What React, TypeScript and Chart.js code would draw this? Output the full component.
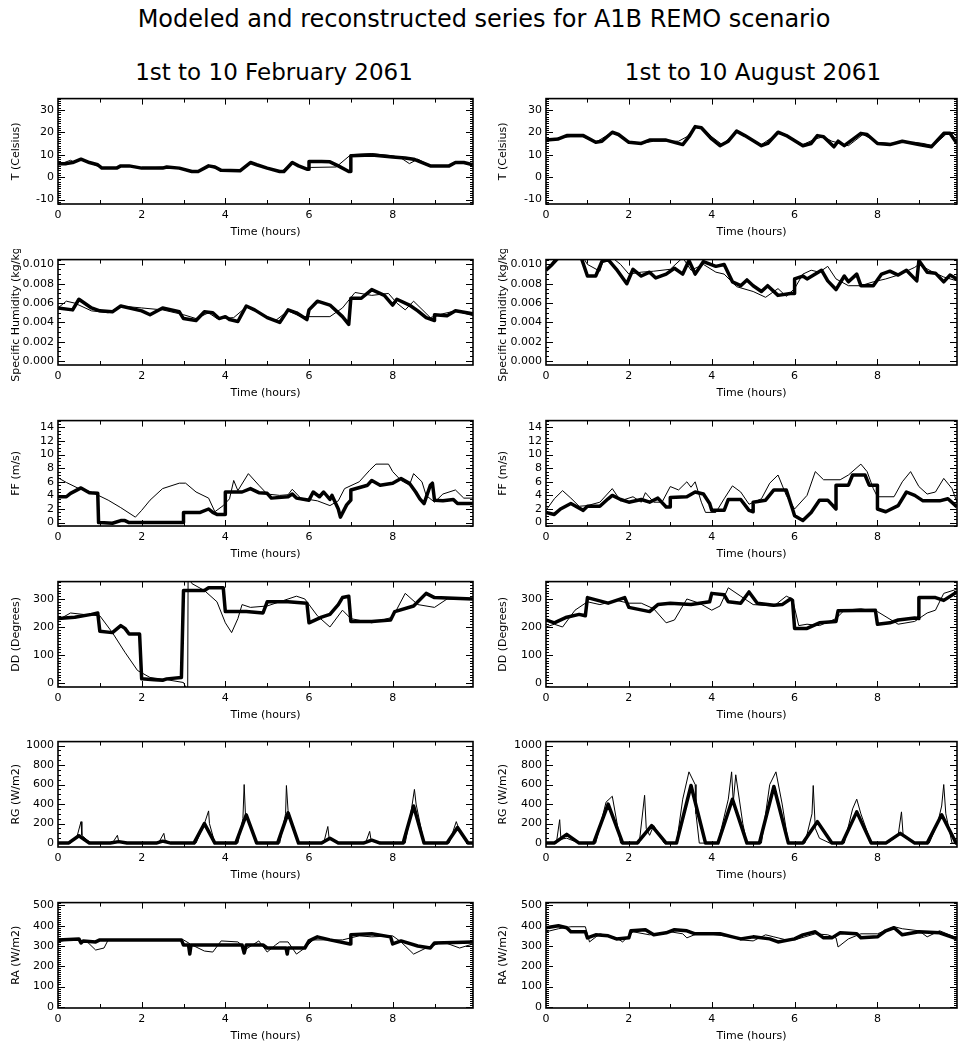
import React, { useEffect, useRef } from "react";
import { Chart, registerables } from "chart.js";
Chart.register(...registerables);

type Pt = [number, number];

const MAIN_TITLE = "Modeled and reconstructed series for A1B REMO scenario";
const COL_TITLES = ["1st to 10 February 2061", "1st to 10 August 2061"];
const X_TITLE = "Time (hours)";
const X_MAX = 9.92;
const X_TICKS = [0, 2, 4, 6, 8];

// ---------- Temperature ----------
const FEB_T_MODEL: Pt[] = [[0,6],[0.15,6.5],[0.3,7.5],[0.4,6.5],[0.55,8],[0.75,6.5],[1.05,4],[1.4,4],[1.5,5],[1.7,5],[2.0,4],[2.6,4.5],[2.9,4],[3.2,2.5],[3.35,2.5],[3.6,5],[3.9,3],[4.35,2.8],[4.6,6.5],[5.0,4],[5.35,2.5],[5.6,6.5],[5.95,3.5],[6.05,4.3],[6.65,4.5],[7.0,10],[7.5,10.5],[8.0,9.5],[8.2,8.5],[8.4,6],[8.6,8],[8.9,5],[9.35,5],[9.5,6.5],[9.7,6.5],[9.92,5.5]];
const FEB_T_RECON: Pt[] = [[0,6],[0.2,6],[0.35,6.5],[0.55,8],[0.75,6.5],[0.95,5.5],[1.05,4],[1.4,4],[1.5,5],[1.7,5],[2.0,4],[2.5,4],[2.6,4.5],[2.9,4],[3.2,2.5],[3.35,2.5],[3.6,5],[3.75,4.5],[3.9,3],[4.35,2.8],[4.6,6.5],[4.75,5.5],[5.0,4],[5.3,2.5],[5.4,2.5],[5.6,6.5],[5.75,5],[5.95,3.5],[6.0,3.5],[6.0,7],[6.3,7],[6.5,6.8],[6.7,5],[6.95,2.5],[7.0,2.5],[7.0,9.5],[7.5,9.8],[8.0,9],[8.3,8.5],[8.5,8],[8.9,5],[9.35,5],[9.5,6.5],[9.7,6.5],[9.92,5.5]];
const AUG_T_MODEL: Pt[] = [[0,16],[0.3,17.5],[0.6,18],[0.9,18],[1.2,15.5],[1.6,20],[2.0,16],[2.3,15],[2.6,16],[2.9,16],[3.2,16],[3.4,18],[3.6,22],[3.8,21.5],[4.0,18],[4.25,14.5],[4.6,20],[4.85,18],[5.2,14.5],[5.6,19.5],[5.85,18],[6.2,14.5],[6.5,17],[6.7,18],[6.9,16],[7.1,15],[7.3,14],[7.65,19],[8.0,15.5],[8.3,15],[8.6,15.5],[8.9,15.5],[9.1,15],[9.35,14],[9.65,19],[9.85,19.5],[9.92,18]];
const AUG_T_RECON: Pt[] = [[0,16.5],[0.3,17],[0.5,18.5],[0.9,18.5],[1.2,15.5],[1.35,16],[1.6,20],[1.75,19],[2.0,15.5],[2.3,15],[2.5,16.5],[2.9,16.5],[3.3,14.5],[3.45,18],[3.6,22.5],[3.75,22],[4.0,17],[4.2,14],[4.4,16],[4.6,20.5],[4.8,18.5],[5.2,14],[5.35,15],[5.6,20],[5.8,18.5],[6.2,14],[6.4,15],[6.55,18.5],[6.7,18],[6.95,13.5],[7.05,16],[7.2,14],[7.6,19.5],[7.75,19],[8.0,15],[8.3,14.5],[8.6,16],[9.0,14.5],[9.3,13.5],[9.6,19.5],[9.75,19.5],[9.92,15]];

// ---------- Specific humidity ----------
const FEB_Q_MODEL: Pt[] = [[0,0.0055],[0.2,0.0062],[0.4,0.006],[0.8,0.0052],[1.2,0.005],[1.5,0.0057],[2.0,0.0055],[2.5,0.0053],[3.0,0.0048],[3.3,0.0044],[3.6,0.005],[3.8,0.0044],[4.2,0.0045],[4.5,0.0056],[4.8,0.005],[5.2,0.0042],[5.5,0.0052],[5.8,0.0046],[6.0,0.0046],[6.5,0.0046],[6.8,0.0055],[7.1,0.0071],[7.5,0.0068],[7.9,0.007],[8.1,0.006],[8.3,0.0053],[8.5,0.0062],[8.9,0.0045],[9.2,0.0049],[9.5,0.0052],[9.92,0.0047]];
const FEB_Q_RECON: Pt[] = [[0,0.0055],[0.35,0.0053],[0.5,0.0064],[0.8,0.0055],[1.0,0.0052],[1.3,0.0051],[1.5,0.0057],[2.0,0.0052],[2.2,0.0048],[2.5,0.0055],[2.9,0.0051],[3.0,0.0044],[3.3,0.0042],[3.5,0.0051],[3.7,0.005],[3.85,0.0044],[4.0,0.0046],[4.1,0.0043],[4.3,0.0041],[4.5,0.0057],[4.7,0.0053],[5.0,0.0045],[5.3,0.004],[5.5,0.0053],[5.7,0.005],[5.95,0.0043],[6.0,0.0053],[6.2,0.0062],[6.5,0.0058],[6.8,0.0046],[6.95,0.0038],[7.0,0.0065],[7.25,0.0065],[7.5,0.0074],[7.8,0.0068],[8.0,0.0058],[8.1,0.0064],[8.4,0.0058],[8.6,0.0052],[8.8,0.0045],[9.0,0.0042],[9.0,0.0048],[9.3,0.0047],[9.5,0.0052],[9.92,0.0049]];
const AUG_Q_MODEL: Pt[] = [[0,0.0094],[0.2,0.0105],[0.35,0.0107],[0.9,0.0107],[1.0,0.01],[1.3,0.0093],[1.4,0.0107],[1.6,0.0107],[1.8,0.01],[2.0,0.009],[2.3,0.0092],[2.6,0.0093],[3.0,0.0095],[3.3,0.0107],[3.5,0.0094],[3.8,0.01],[4.1,0.0092],[4.3,0.009],[4.6,0.0077],[5.0,0.0072],[5.3,0.0066],[5.6,0.0075],[5.8,0.0067],[6.0,0.0075],[6.2,0.009],[6.4,0.0094],[6.6,0.0092],[6.8,0.0098],[7.0,0.0085],[7.3,0.0078],[7.6,0.0078],[7.9,0.0082],[8.2,0.0085],[8.5,0.0089],[8.9,0.0097],[9.0,0.01],[9.3,0.0093],[9.6,0.0087],[9.92,0.0083]];
const AUG_Q_RECON: Pt[] = [[0,0.0094],[0.15,0.01],[0.3,0.0107],[0.85,0.0107],[1.0,0.0088],[1.2,0.0088],[1.35,0.0103],[1.5,0.0105],[1.7,0.0095],[1.95,0.008],[2.1,0.0095],[2.3,0.0088],[2.5,0.0092],[2.65,0.0086],[2.9,0.009],[3.1,0.0096],[3.3,0.009],[3.45,0.0104],[3.6,0.009],[3.8,0.0103],[4.1,0.0098],[4.3,0.01],[4.5,0.0082],[4.7,0.0078],[4.85,0.0084],[5.0,0.0078],[5.2,0.0072],[5.35,0.0078],[5.6,0.0068],[5.9,0.007],[6.0,0.007],[6.0,0.0085],[6.2,0.0088],[6.3,0.0085],[6.5,0.009],[6.65,0.0094],[6.8,0.0083],[7.0,0.0074],[7.2,0.0088],[7.3,0.0082],[7.5,0.009],[7.6,0.0078],[7.9,0.0078],[8.1,0.009],[8.3,0.0093],[8.5,0.0089],[8.7,0.0094],[8.95,0.0083],[9.0,0.0104],[9.2,0.0092],[9.4,0.0091],[9.6,0.0082],[9.75,0.0089],[9.92,0.0085]];

// ---------- Wind speed ----------
const FEB_FF_MODEL: Pt[] = [[0,6.6],[0.2,5.9],[0.5,5.0],[0.8,4.5],[1.2,3.3],[1.5,2.2],[1.85,0.8],[2.0,1.8],[2.2,3.3],[2.5,5.0],[2.9,5.8],[3.05,5.8],[3.3,4.5],[3.6,3.6],[3.75,1.6],[3.95,2.5],[4.1,3.5],[4.2,6.2],[4.3,4.7],[4.55,7.2],[4.8,5.5],[5.0,4.2],[5.3,4.0],[5.5,4.1],[5.6,4.9],[5.8,3.6],[6.2,3.2],[6.5,2.5],[6.7,3.2],[6.85,5.0],[7.2,6.0],[7.45,7.7],[7.6,8.6],[7.9,8.6],[8.0,7.5],[8.2,6.2],[8.4,5.5],[8.5,7.2],[8.7,6.0],[8.8,4.0],[9.0,3.0],[9.2,4.2],[9.5,4.8],[9.7,3.6],[9.92,3.6]];
const FEB_FF_RECON: Pt[] = [[0,3.8],[0.2,3.8],[0.3,4.3],[0.55,5.1],[0.75,4.4],[0.95,4.3],[0.97,0],[1.0,0],[1.3,-0.1],[1.5,0.3],[1.6,0.3],[1.7,0],[3.0,0],[3.0,1.5],[3.4,1.5],[3.6,2.0],[3.7,1.5],[3.8,1.2],[4.0,1.2],[4.0,4.5],[4.4,4.5],[4.6,5.0],[4.8,4.4],[5.0,4.3],[5.1,3.6],[5.5,3.8],[5.6,4.2],[5.7,3.6],[5.9,3.4],[6.0,3.3],[6.1,4.5],[6.25,3.8],[6.35,4.5],[6.5,3.4],[6.55,4.0],[6.7,2.0],[6.75,0.8],[6.9,2.6],[7.0,3.3],[7.0,4.8],[7.4,5.5],[7.5,6.2],[7.7,5.5],[8.0,5.8],[8.2,6.5],[8.4,5.8],[8.55,4.5],[8.65,3.5],[8.75,2.8],[8.9,5.5],[8.95,5.8],[9.0,3.3],[9.2,3.2],[9.45,3.4],[9.55,2.8],[9.92,2.8]];
const AUG_FF_MODEL: Pt[] = [[0,1.8],[0.2,3.5],[0.4,4.7],[0.6,3.6],[0.8,2.4],[1.0,2.5],[1.3,3.0],[1.6,5.0],[1.8,3.2],[2.1,3.8],[2.3,3.0],[2.4,4.4],[2.6,3.0],[2.8,3.0],[3.0,5.3],[3.2,4.8],[3.4,6.0],[3.5,5.2],[3.6,6.0],[3.75,3.0],[3.85,1.5],[4.1,1.5],[4.3,3.5],[4.5,5.4],[4.7,4.5],[4.9,2.7],[5.2,3.5],[5.4,5.8],[5.6,7.0],[5.8,4.0],[6.0,2.0],[6.3,4.0],[6.5,7.5],[6.7,6.3],[7.1,6.3],[7.3,7.0],[7.6,8.6],[7.75,7.5],[7.9,5.0],[8.0,3.8],[8.4,3.8],[8.6,6.0],[8.8,7.5],[9.0,5.3],[9.2,4.2],[9.4,4.5],[9.6,6.5],[9.8,5.0],[9.92,3.0]];
const AUG_FF_RECON: Pt[] = [[0,1.5],[0.2,1.2],[0.35,2.0],[0.6,2.8],[0.9,1.8],[1.0,2.4],[1.3,2.4],[1.5,3.5],[1.6,4.0],[1.8,3.4],[2.0,3.0],[2.3,3.4],[2.5,3.0],[2.7,3.6],[2.9,2.3],[3.0,2.3],[3.0,3.7],[3.4,3.8],[3.6,4.5],[3.8,4.2],[3.95,2.8],[4.0,1.8],[4.3,1.8],[4.4,3.4],[4.7,3.4],[4.9,1.8],[5.0,1.6],[5.0,3.0],[5.3,3.3],[5.5,4.8],[5.8,4.8],[5.95,2.0],[6.0,1.0],[6.2,0.3],[6.4,1.5],[6.6,3.3],[6.8,3.3],[7.0,2.0],[7.0,5.5],[7.3,5.5],[7.4,7.0],[7.7,7.0],[7.8,5.5],[8.0,5.5],[8.0,2.0],[8.2,1.6],[8.5,2.5],[8.7,4.5],[8.9,4.0],[9.1,3.2],[9.5,3.2],[9.7,3.5],[9.92,2.3]];

// ---------- Wind direction ----------
const FEB_DD_MODEL: Pt[] = [[0,225],[0.3,250],[0.6,245],[1.0,240],[1.3,180],[1.6,110],[1.9,45],[2.2,20],[2.6,12],[3.0,2],[3.1,-30],[3.11,380],[3.2,355],[3.5,330],[3.8,290],[4.0,215],[4.15,180],[4.3,230],[4.4,280],[4.6,270],[5.0,275],[5.5,300],[5.7,310],[5.9,300],[6.2,240],[6.5,200],[6.8,260],[7.0,230],[7.5,215],[8.0,235],[8.3,320],[8.6,280],[9.0,270],[9.3,300],[9.92,300]];
const FEB_DD_RECON: Pt[] = [[0,230],[0.4,235],[0.8,245],[0.95,250],[1.0,185],[1.3,180],[1.5,205],[1.6,195],[1.7,175],[1.95,175],[2.0,15],[2.3,12],[2.5,10],[2.6,15],[2.95,20],[3.0,330],[3.5,330],[3.6,340],[3.95,340],[4.0,255],[4.5,255],[4.9,250],[5.0,290],[5.5,290],[5.95,285],[6.0,215],[6.3,235],[6.5,245],[6.7,280],[6.8,305],[6.95,310],[7.0,220],[7.5,220],[7.95,225],[8.05,255],[8.5,275],[8.8,320],[9.0,305],[9.92,300]];
const AUG_DD_MODEL: Pt[] = [[0,200],[0.2,210],[0.4,200],[0.7,260],[1.0,290],[1.3,280],[1.7,295],[2.0,285],[2.3,285],[2.6,265],[2.9,215],[3.1,225],[3.4,300],[3.7,285],[4.0,260],[4.2,275],[4.4,340],[4.7,310],[5.0,280],[5.5,275],[5.8,310],[5.95,300],[6.1,205],[6.3,210],[6.6,205],[7.0,230],[7.2,260],[7.6,265],[8.0,255],[8.5,210],[8.9,220],[9.2,250],[9.4,260],[9.6,320],[9.92,335]];
const AUG_DD_RECON: Pt[] = [[0,225],[0.2,215],[0.5,235],[0.8,245],[0.95,240],[1.0,305],[1.5,285],[1.9,305],[2.0,270],[2.5,255],[2.7,280],[3.0,285],[3.5,280],[3.95,290],[4.0,320],[4.3,315],[4.4,290],[4.7,285],[4.9,325],[5.1,285],[5.5,278],[5.7,280],[5.9,300],[5.95,295],[6.0,195],[6.3,195],[6.6,215],[7.0,220],[7.05,258],[7.95,260],[8.0,210],[8.3,215],[8.5,225],[8.9,232],[9.0,230],[9.0,305],[9.4,305],[9.6,295],[9.92,325]];

// ---------- Global radiation ----------
const FEB_RG_MODEL: Pt[] = [[0,0],[0.3,0],[0.45,60],[0.55,220],[0.57,80],[0.7,30],[0.8,0],[1.3,0],[1.42,80],[1.45,20],[1.6,0],[2.4,0],[2.53,100],[2.56,30],[2.7,0],[3.3,0],[3.5,200],[3.6,330],[3.62,200],[3.75,0],[4.3,0],[4.42,250],[4.45,600],[4.48,300],[4.75,0],[5.3,0],[5.44,300],[5.46,590],[5.5,330],[5.75,0],[6.35,0],[6.45,170],[6.48,50],[6.7,0],[7.35,0],[7.45,120],[7.48,40],[7.7,0],[8.3,0],[8.45,350],[8.52,550],[8.56,400],[8.75,0],[9.35,0],[9.52,220],[9.58,150],[9.8,0],[9.92,0]];
const FEB_RG_RECON: Pt[] = [[0,0],[0.25,0],[0.5,75],[0.75,0],[1.25,0],[1.45,15],[1.65,0],[2.35,0],[2.5,20],[2.7,0],[3.25,0],[3.5,200],[3.75,0],[4.25,0],[4.5,290],[4.75,0],[5.25,0],[5.5,310],[5.75,0],[6.3,0],[6.5,50],[6.7,0],[7.3,0],[7.5,30],[7.7,0],[8.25,0],[8.5,380],[8.75,0],[9.3,0],[9.55,160],[9.8,0],[9.92,0]];
const AUG_RG_MODEL: Pt[] = [[0,0],[0.25,0],[0.33,240],[0.36,40],[0.5,50],[0.8,0],[1.2,0],[1.45,420],[1.6,480],[1.8,0],[2.25,0],[2.38,490],[2.42,150],[2.5,80],[2.6,180],[2.85,0],[3.15,0],[3.3,450],[3.45,730],[3.6,600],[3.62,300],[3.7,0],[4.15,0],[4.4,450],[4.48,730],[4.52,420],[4.58,700],[4.75,200],[4.85,0],[5.2,0],[5.4,600],[5.55,730],[5.7,400],[5.85,0],[6.25,0],[6.42,300],[6.45,590],[6.5,150],[6.6,50],[6.85,0],[7.2,0],[7.4,350],[7.5,450],[7.6,300],[7.85,0],[8.25,0],[8.5,80],[8.58,320],[8.62,80],[8.9,0],[9.25,0],[9.45,200],[9.55,380],[9.6,600],[9.65,300],[9.8,0],[9.92,0]];
const AUG_RG_RECON: Pt[] = [[0,0],[0.2,0],[0.5,90],[0.8,0],[1.15,0],[1.5,400],[1.85,0],[2.2,0],[2.55,180],[2.9,0],[3.15,0],[3.5,590],[3.85,0],[4.15,0],[4.5,450],[4.85,0],[5.15,0],[5.5,580],[5.85,0],[6.2,0],[6.55,220],[6.9,0],[7.15,0],[7.5,320],[7.85,0],[8.2,0],[8.55,100],[8.9,0],[9.2,0],[9.55,290],[9.9,0],[9.92,0]];

// ---------- Atmospheric radiation ----------
const FEB_RA_MODEL: Pt[] = [[0,320],[0.3,335],[0.7,320],[0.9,280],[1.1,290],[1.2,330],[3.0,330],[3.2,305],[3.5,275],[3.7,270],[3.9,325],[4.3,320],[4.5,285],[4.8,325],[5.0,270],[5.2,305],[5.3,320],[5.5,320],[5.7,260],[5.9,290],[6.1,330],[6.5,330],[6.8,330],[7.2,350],[7.5,345],[8.0,350],[8.2,320],[8.5,260],[8.8,290],[9.2,320],[9.6,290],[9.92,310]];
const FEB_RA_RECON: Pt[] = [[0,330],[0.5,335],[0.55,315],[0.6,325],[0.9,320],[1.0,330],[2.95,330],[3.0,305],[3.12,305],[3.15,260],[3.18,305],[4.4,305],[4.45,265],[4.5,305],[4.9,305],[5.0,290],[5.45,290],[5.48,260],[5.5,290],[5.9,290],[6.0,325],[6.2,345],[6.5,330],[6.98,310],[7.0,355],[7.5,360],[7.95,345],[8.0,310],[8.2,325],[8.6,300],[8.9,290],[9.0,315],[9.92,320]];
const AUG_RA_MODEL: Pt[] = [[0,370],[0.3,385],[0.6,395],[0.95,395],[1.05,320],[1.3,360],[1.7,340],[1.85,320],[2.1,370],[2.5,355],[3.0,370],[3.3,360],[3.4,340],[3.7,365],[4.1,355],[4.5,345],[4.7,330],[5.0,325],[5.3,355],[5.5,345],[5.8,330],[6.0,330],[6.5,360],[6.8,355],[7.0,340],[7.05,295],[7.3,335],[7.6,360],[8.0,360],[8.4,395],[8.6,385],[9.0,375],[9.2,345],[9.5,375],[9.92,340]];
const AUG_RA_RECON: Pt[] = [[0,390],[0.3,400],[0.5,390],[0.6,370],[0.95,370],[1.0,340],[1.2,355],[1.5,350],[1.7,335],[2.0,340],[2.05,375],[2.4,380],[2.6,355],[2.9,365],[3.1,380],[3.4,375],[3.6,360],[4.2,360],[4.5,345],[4.7,335],[5.0,345],[5.4,335],[5.6,320],[6.0,335],[6.2,355],[6.5,370],[6.7,340],[6.9,340],[7.1,365],[7.5,360],[7.6,340],[8.0,345],[8.2,375],[8.4,390],[8.6,355],[9.0,370],[9.5,365],[9.92,335]];

// ---------- Axis settings ----------
const Y_LABELS = ["T (Celsius)", "Specific Humidity (kg/kg)", "FF (m/s)", "DD (Degrees)", "RG (W/m2)", "RA (W/m2)"];
const T_TICKS = [-10, 0, 10, 20, 30];
const Q_TICKS = [0, 0.002, 0.004, 0.006, 0.008, 0.01];
const FF_TICKS = [0, 2, 4, 6, 8, 10, 12, 14];
const DD_TICKS = [0, 100, 200, 300];
const RG_TICKS = [0, 200, 400, 600, 800, 1000];
const RA_TICKS = [0, 100, 200, 300, 400, 500];

interface PanelCfg {
  label: string; min: number; max: number; ticks: number[]; minor: number; dec: number;
  model: Pt[]; recon: Pt[];
}

const ROWS: { label: string; min: number; max: number; ticks: number[]; minor: number; dec: number; feb: [Pt[], Pt[]]; aug: [Pt[], Pt[]] }[] = [
  { label: Y_LABELS[0], min: -12, max: 35, ticks: T_TICKS, minor: 1, dec: 0, feb: [FEB_T_MODEL, FEB_T_RECON], aug: [AUG_T_MODEL, AUG_T_RECON] },
  { label: Y_LABELS[1], min: -0.0004, max: 0.0105, ticks: Q_TICKS, minor: 0.0005, dec: 3, feb: [FEB_Q_MODEL, FEB_Q_RECON], aug: [AUG_Q_MODEL, AUG_Q_RECON] },
  { label: Y_LABELS[2], min: -0.5, max: 15, ticks: FF_TICKS, minor: 0.5, dec: 0, feb: [FEB_FF_MODEL, FEB_FF_RECON], aug: [AUG_FF_MODEL, AUG_FF_RECON] },
  { label: Y_LABELS[3], min: -14, max: 362, ticks: DD_TICKS, minor: 10, dec: 0, feb: [FEB_DD_MODEL, FEB_DD_RECON], aug: [AUG_DD_MODEL, AUG_DD_RECON] },
  { label: Y_LABELS[4], min: -40, max: 1040, ticks: RG_TICKS, minor: 50, dec: 0, feb: [FEB_RG_MODEL, FEB_RG_RECON], aug: [AUG_RG_MODEL, AUG_RG_RECON] },
  { label: Y_LABELS[5], min: -6, max: 514, ticks: RA_TICKS, minor: 10, dec: 0, feb: [FEB_RA_MODEL, FEB_RA_RECON], aug: [AUG_RA_MODEL, AUG_RA_RECON] },
];

const ROW_TOPS = [96, 257, 418, 579, 739, 900];
const PLOT_H = 108;
const CANVAS_H = 160;
const TOP_PAD = 8;
const COLS = [
  { left: 0, yWidth: 58, titlePad: 10 },
  { left: 484, yWidth: 62, titlePad: 13 },
];
const CANVAS_W = 484;
const RIGHT_PAD = 11;

const FONT = { family: "DejaVu Sans", size: 11 };

const framePlugin = {
  id: "frame",
  afterDatasetsDraw(chart: any, _args: any, opts: any) {
    const { ctx, chartArea: a, scales } = chart;
    const ys = scales.y, xs = scales.x;
    ctx.save();
    ctx.strokeStyle = "#000";
    ctx.lineWidth = 1;
    ctx.beginPath();
    for (const v of opts.yMajor as number[]) {
      const p = Math.round(ys.getPixelForValue(v)) + 0.5;
      ctx.moveTo(a.left, p); ctx.lineTo(a.left + 7, p);
      ctx.moveTo(a.right, p); ctx.lineTo(a.right - 7, p);
    }
    const step = opts.yMinor as number;
    for (let k = Math.ceil(ys.min / step - 1e-9); k * step <= ys.max + 1e-12; k++) {
      const p = Math.round(ys.getPixelForValue(k * step)) + 0.5;
      ctx.moveTo(a.left, p); ctx.lineTo(a.left + 3, p);
      ctx.moveTo(a.right, p); ctx.lineTo(a.right - 3, p);
    }
    for (let h = 1; h <= 9; h++) {
      const p = Math.round(xs.getPixelForValue(h)) + 0.5;
      const len = h % 2 === 0 ? 6 : 4;
      ctx.moveTo(p, a.bottom); ctx.lineTo(p, a.bottom - len);
      ctx.moveTo(p, a.top); ctx.lineTo(p, a.top + len);
    }
    ctx.stroke();
    ctx.lineWidth = 1.6;
    ctx.strokeRect(a.left, a.top, a.right - a.left, a.bottom - a.top);
    ctx.restore();
  },
};

function Panel({ cfg, col, top }: { cfg: PanelCfg; col: number; top: number }) {
  const ref = useRef<HTMLCanvasElement | null>(null);
  useEffect(() => {
    if (!ref.current) return;
    const c = COLS[col];
    const chart = new Chart(ref.current, {
      type: "line",
      data: {
        datasets: [
          { data: cfg.model.map(([x, y]) => ({ x, y })), borderColor: "#000", borderWidth: 1, pointRadius: 0, tension: 0, clip: 0 } as any,
          { data: cfg.recon.map(([x, y]) => ({ x, y })), borderColor: "#000", borderWidth: 3.5, pointRadius: 0, tension: 0, clip: 0, borderJoinStyle: "round" } as any,
        ],
      },
      options: {
        responsive: false,
        animation: false,
        events: [],
        layout: { padding: { top: TOP_PAD, right: RIGHT_PAD, left: 0, bottom: 0 } },
        plugins: {
          legend: { display: false },
          tooltip: { enabled: false },
          frame: { yMajor: cfg.ticks, yMinor: cfg.minor },
        } as any,
        scales: {
          x: {
            type: "linear", min: 0, max: X_MAX,
            grid: { display: false, drawTicks: false }, border: { display: false },
            afterBuildTicks: (s: any) => { s.ticks = X_TICKS.map((v) => ({ value: v })); },
            afterFit: (s: any) => { s.height = CANVAS_H - TOP_PAD - PLOT_H; },
            ticks: { padding: 5, font: FONT, color: "#000", maxRotation: 0, autoSkip: false, callback: (v: any) => String(v) },
            title: { display: true, text: X_TITLE, font: FONT, color: "#000", padding: { top: 0, bottom: 9 } },
          },
          y: {
            type: "linear", min: cfg.min, max: cfg.max,
            grid: { display: false, drawTicks: false }, border: { display: false },
            afterBuildTicks: (s: any) => { s.ticks = cfg.ticks.map((v) => ({ value: v })); },
            afterFit: (s: any) => { s.width = c.yWidth; },
            ticks: { padding: 4, font: FONT, color: "#000", autoSkip: false, callback: (v: any) => Number(v).toFixed(cfg.dec) },
            title: { display: true, text: cfg.label, font: FONT, color: "#000", padding: { top: c.titlePad, bottom: 0 } },
          },
        },
      } as any,
      plugins: [framePlugin as any],
    });
    return () => chart.destroy();
  }, [cfg, col]);
  return (
    <canvas
      ref={ref}
      width={CANVAS_W}
      height={CANVAS_H}
      style={{ position: "absolute", left: COLS[col].left, top: top - TOP_PAD, width: CANVAS_W, height: CANVAS_H }}
    />
  );
}

const titleStyle: React.CSSProperties = {
  position: "absolute", fontFamily: "DejaVu Sans", lineHeight: "28px", color: "#000", whiteSpace: "nowrap", textAlign: "center",
};

export default function App() {
  const panels: { cfg: PanelCfg; col: number; top: number }[] = [];
  ROWS.forEach((r, i) => {
    panels.push({ cfg: { label: r.label, min: r.min, max: r.max, ticks: r.ticks, minor: r.minor, dec: r.dec, model: r.feb[0], recon: r.feb[1] }, col: 0, top: ROW_TOPS[i] });
    panels.push({ cfg: { label: r.label, min: r.min, max: r.max, ticks: r.ticks, minor: r.minor, dec: r.dec, model: r.aug[0], recon: r.aug[1] }, col: 1, top: ROW_TOPS[i] });
  });
  return (
    <div style={{ position: "absolute", left: 0, top: 0, width: 968, height: 1043, overflow: "hidden", background: "#fff" }}>
      <div style={{ ...titleStyle, fontSize: 24, left: 0, width: 968, top: 5 }}>{MAIN_TITLE}</div>
      <div style={{ ...titleStyle, fontSize: 23, left: 74, width: 400, top: 58 }}>{COL_TITLES[0]}</div>
      <div style={{ ...titleStyle, fontSize: 23, left: 553, width: 400, top: 58 }}>{COL_TITLES[1]}</div>
      {panels.map((p, i) => (
        <Panel key={i} cfg={p.cfg} col={p.col} top={p.top} />
      ))}
    </div>
  );
}
